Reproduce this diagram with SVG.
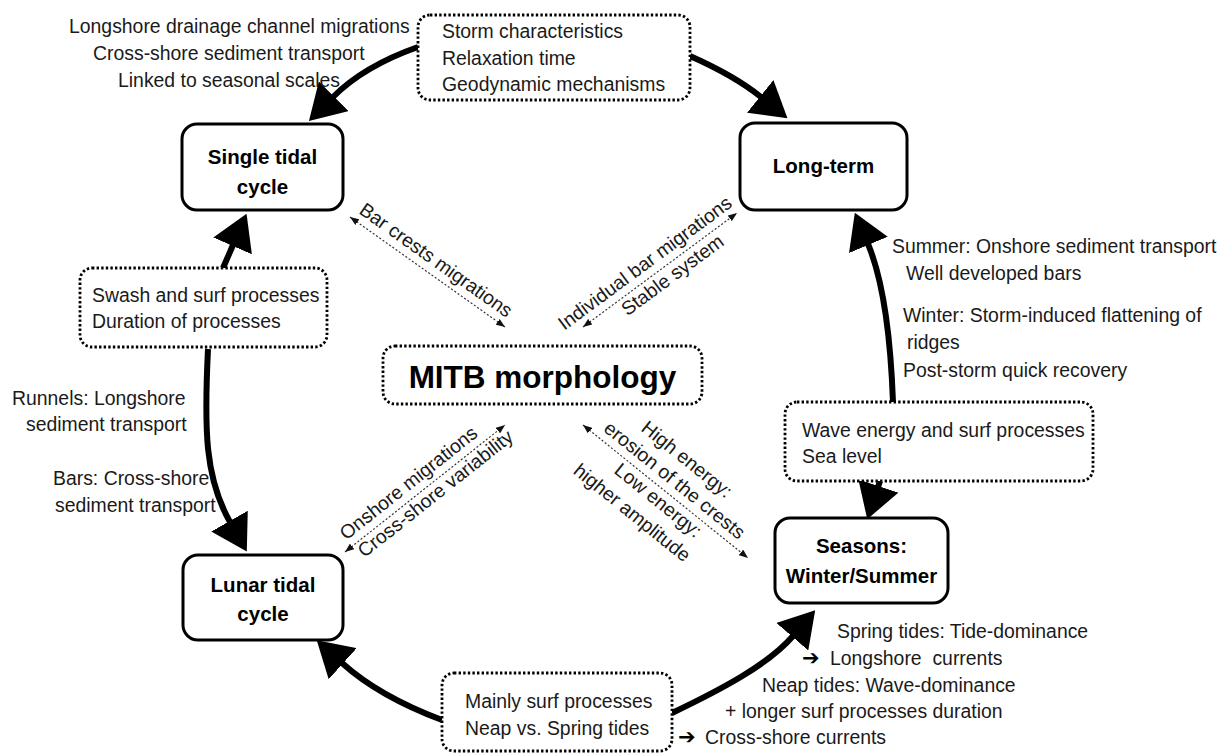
<svg xmlns="http://www.w3.org/2000/svg" width="1223" height="753" viewBox="0 0 1223 753">
<style>
  .t { font-family: "Liberation Sans", Arial, sans-serif; font-size: 19.4px; fill: #1a1a1a; }
  .b { font-family: "Liberation Sans", Arial, sans-serif; font-size: 20.5px; font-weight: bold; fill: #000; text-anchor: middle; }
  .big { font-family: "Liberation Sans", Arial, sans-serif; font-size: 31.5px; font-weight: bold; fill: #000; text-anchor: middle; }
  .sym { font-family: "DejaVu Sans", sans-serif; font-size: 21px; font-weight: bold; fill: #000; }
  .node rect { fill: #fff; stroke: #000; stroke-width: 3; }
  .note rect { fill: #fff; stroke: #000; stroke-width: 2.8; stroke-dasharray: 2.4 2.2; }
  .thick { fill: none; stroke: #000; stroke-width: 6; marker-end: url(#ah); }
  .thin { fill: none; stroke: #333; stroke-width: 1.2; stroke-dasharray: 2 2; marker-start: url(#sh); marker-end: url(#sh); }
  .c { text-anchor: middle; }
</style>
<defs>
  <marker id="ah" markerUnits="userSpaceOnUse" viewBox="0 0 35 42" markerWidth="35" markerHeight="42" refX="1" refY="21" orient="auto">
    <path d="M0,0 L35,21 L0,42 z" fill="#000"/>
  </marker>
  <marker id="sh" markerUnits="userSpaceOnUse" viewBox="0 0 9 7" markerWidth="9" markerHeight="7" refX="9" refY="3.5" orient="auto-start-reverse">
    <path d="M0,0 L9,3.5 L0,7 z" fill="#111"/>
  </marker>
</defs>
<rect width="1223" height="753" fill="#fff"/>

<g id="connectors">
  <path class="thick" d="M418,47 Q364,66 333,97"/>
  <path class="thick" d="M690,56 Q735,76 761,97"/>
  <path class="thick" d="M893,402 Q889,294 868,244"/>
  <path class="thick" d="M880,481 L878,487"/>
  <path class="thick" d="M223,268 L233,245"/>
  <path class="thick" d="M208,349 C204,430 205,478 230,522"/>
  <path class="thick" d="M442,720 C410,708 372,690 342,663"/>
  <path class="thick" d="M672,713 C720,690 768,665 793,636"/>
  <path class="thin" d="M350,217 L505,327"/>
  <path class="thin" d="M583,327 L737,213"/>
  <path class="thin" d="M345,552 L505,425"/>
  <path class="thin" d="M583,425 L748,558"/>
</g>

<g id="single-tidal-cycle" class="node">
  <rect x="182" y="124" width="161" height="86" rx="15"/>
  <text class="b" x="262.5" y="164">Single tidal</text>
  <text class="b" x="262.5" y="194">cycle</text>
</g>
<g id="long-term" class="node">
  <rect x="740" y="123" width="167" height="87" rx="15"/>
  <text class="b" x="823.5" y="173">Long-term</text>
</g>
<g id="seasons" class="node">
  <rect x="775" y="518" width="173" height="85" rx="15"/>
  <text class="b" x="861.5" y="553">Seasons:</text>
  <text class="b" x="861.5" y="583">Winter/Summer</text>
</g>
<g id="lunar-tidal-cycle" class="node">
  <rect x="183" y="555" width="160" height="85" rx="15"/>
  <text class="b" x="263" y="592">Lunar tidal</text>
  <text class="b" x="263" y="621">cycle</text>
</g>
<g id="mitb-morphology" class="note">
  <rect x="383" y="346" width="319" height="58" rx="12"/>
  <text class="big" x="542.5" y="388">MITB morphology</text>
</g>
<g id="storm-box" class="note">
  <rect x="418" y="15" width="272" height="85" rx="12"/>
  <text class="t" x="442" y="38">Storm characteristics</text>
  <text class="t" x="442" y="65">Relaxation time</text>
  <text class="t" x="442" y="91">Geodynamic mechanisms</text>
</g>
<g id="swash-box" class="note">
  <rect x="80" y="268" width="247" height="79" rx="12"/>
  <text class="t" x="92" y="302">Swash and surf processes</text>
  <text class="t" x="92" y="328">Duration of processes</text>
</g>
<g id="wave-box" class="note">
  <rect x="785" y="402" width="308" height="79" rx="12"/>
  <text class="t" x="802" y="437">Wave energy and surf processes</text>
  <text class="t" x="802" y="463">Sea level</text>
</g>
<g id="surf-box" class="note">
  <rect x="442" y="673" width="230" height="78" rx="12"/>
  <text class="t" x="465" y="708">Mainly surf processes</text>
  <text class="t" x="465" y="735">Neap vs. Spring tides</text>
</g>

<g id="label-top-left">
  <text class="t" x="69" y="33">Longshore drainage channel migrations</text>
  <text class="t" x="93" y="60">Cross-shore sediment transport</text>
  <text class="t" x="118" y="87">Linked to seasonal scales</text>
</g>
<g id="label-right">
  <text class="t" x="892" y="253">Summer: Onshore sediment transport</text>
  <text class="t" x="906" y="280">Well developed bars</text>
  <text class="t" x="903" y="322">Winter: Storm-induced flattening of</text>
  <text class="t" x="907" y="349">ridges</text>
  <text class="t" x="903" y="377">Post-storm quick recovery</text>
</g>
<g id="label-left">
  <text class="t" x="12" y="405">Runnels: Longshore</text>
  <text class="t" x="26" y="431">sediment transport</text>
  <text class="t" x="53" y="485">Bars: Cross-shore</text>
  <text class="t" x="55" y="512">sediment transport</text>
</g>
<g id="label-bottom-right">
  <text class="t" x="837" y="638">Spring tides: Tide-dominance</text>
  <text class="sym" x="802" y="665">➔</text>
  <text class="t" x="830" y="665" xml:space="preserve">Longshore  currents</text>
  <text class="t" x="762" y="692">Neap tides: Wave-dominance</text>
  <text class="t" x="725" y="718">+ longer surf processes duration</text>
  <text class="sym" x="678" y="744">➔</text>
  <text class="t" x="705" y="744">Cross-shore currents</text>
</g>

<g id="label-bar-crests" transform="translate(427.5,272) rotate(35.4)">
  <text class="t c" x="0" y="-8">Bar crests migrations</text>
</g>
<g id="label-individual" transform="translate(660,270) rotate(-36.5)">
  <text class="t c" x="-8" y="-8">Individual bar migrations</text>
  <text class="t c" x="7" y="18">Stable system</text>
</g>
<g id="label-onshore" transform="translate(425,488.5) rotate(-38.4)">
  <text class="t c" x="-9.5" y="-8">Onshore migrations</text>
  <text class="t c" x="5" y="17">Cross-shore variability</text>
</g>
<g id="label-energy" transform="translate(665.5,491.5) rotate(38.9)">
  <text class="t c" x="-3.5" y="-32">High energy:</text>
  <text class="t c" x="0" y="-8">erosion of the crests</text>
  <text class="t c" x="0" y="18">Low energy:</text>
  <text class="t c" x="-12.7" y="44">higher amplitude</text>
</g>
</svg>
